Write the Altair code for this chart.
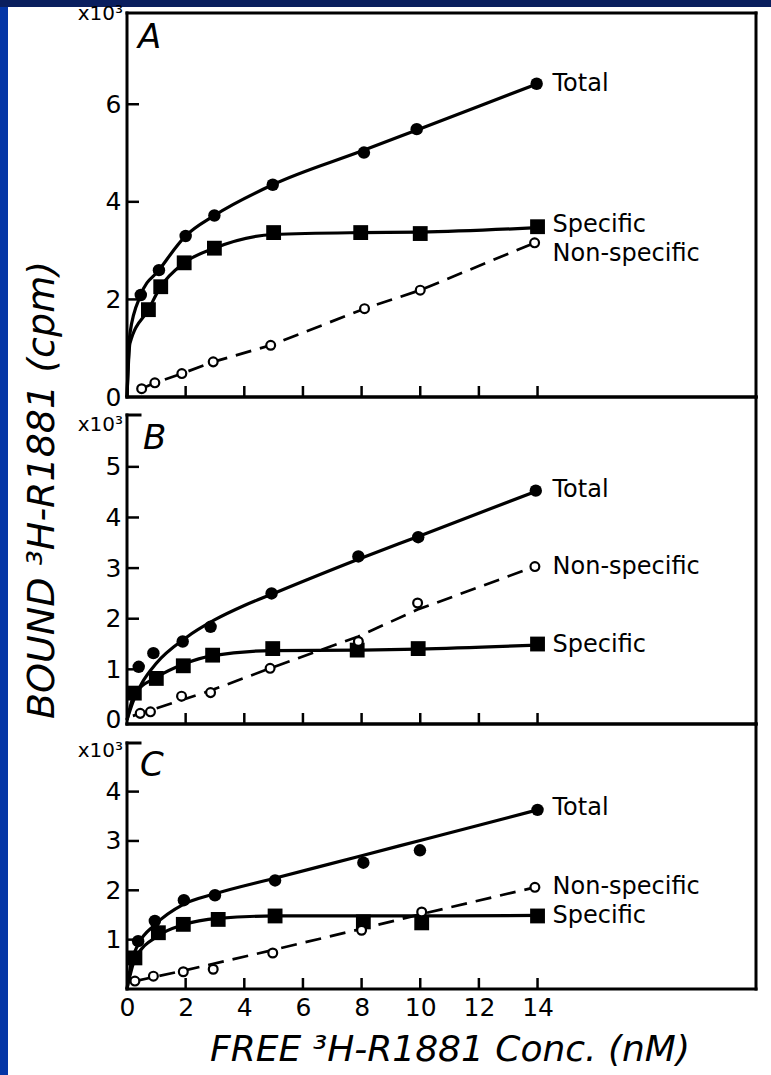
import altair as alt
import pandas as pd

# ---------------- data (x: free 3H-R1881 nM, y: bound cpm x10^3) ----------------
x_ticks = [2, 4, 6, 8, 10, 12, 14]
x_labels = [0, 2, 4, 6, 8, 10, 12, 14]
series_labels = ["Total", "Specific", "Non-specific"]
label_x = [14, 14, 14]

# Panel A
A_yticks = [0, 2, 4, 6]
A_total_x = [0.47, 1.09, 2.0, 2.98, 4.97, 8.08, 9.88, 13.97]
A_total_y = [2.09, 2.60, 3.30, 3.72, 4.35, 5.01, 5.49, 6.42]
A_spec_x = [0.73, 1.15, 1.95, 2.98, 5.0, 7.97, 10.0, 14.0]
A_spec_y = [1.79, 2.26, 2.75, 3.05, 3.37, 3.37, 3.35, 3.49]
A_non_x = [0.5, 0.95, 1.87, 2.94, 4.9, 8.1, 10.0, 13.9]
A_non_y = [0.17, 0.29, 0.48, 0.72, 1.06, 1.81, 2.19, 3.16]
A_total_curve_x = [0, 0.1, 0.47, 1.09, 2.0, 2.98, 4.97, 8.0, 10.0, 14.0]
A_total_curve_y = [0, 1.3, 2.09, 2.60, 3.30, 3.72, 4.35, 5.04, 5.50, 6.42]
A_spec_curve_x = [0, 0.1, 0.73, 1.15, 1.95, 2.98, 5.0, 8.0, 10.0, 14.0]
A_spec_curve_y = [0, 1.1, 1.79, 2.26, 2.75, 3.05, 3.33, 3.37, 3.38, 3.47]
A_non_line_x = [0.5, 0.95, 1.87, 2.94, 4.9, 8.1, 10.0, 13.9]
A_non_line_y = [0.17, 0.29, 0.48, 0.72, 1.06, 1.81, 2.19, 3.16]
A_label_y = [6.42, 3.53, 2.93]

# Panel B
B_yticks = [0, 1, 2, 3, 4, 5]
B_total_x = [0.4, 0.9, 1.9, 2.85, 4.93, 7.89, 9.93, 13.94]
B_total_y = [1.05, 1.32, 1.55, 1.84, 2.50, 3.23, 3.61, 4.53]
B_spec_x = [0.25, 1.0, 1.92, 2.92, 4.97, 7.85, 9.93, 14.0]
B_spec_y = [0.53, 0.82, 1.07, 1.28, 1.41, 1.38, 1.41, 1.50]
B_non_x = [0.45, 0.8, 1.86, 2.85, 4.88, 7.89, 9.91, 13.91]
B_non_y = [0.13, 0.16, 0.47, 0.54, 1.02, 1.55, 2.31, 3.03]
B_total_curve_x = [0, 0.2, 0.5, 1.0, 2.0, 3.0, 4.0, 5.0, 8.0, 10.0, 14.0]
B_total_curve_y = [0, 0.35, 0.72, 1.12, 1.62, 1.98, 2.26, 2.50, 3.20, 3.64, 4.53]
B_spec_curve_x = [0, 0.25, 1.0, 1.92, 2.92, 4.97, 7.85, 9.93, 14.0]
B_spec_curve_y = [0, 0.50, 0.84, 1.10, 1.27, 1.37, 1.38, 1.40, 1.48]
B_non_line_x = [0.2, 2.85, 4.88, 7.89, 9.91, 13.91]
B_non_line_y = [0.08, 0.58, 1.02, 1.65, 2.18, 3.03]
B_label_y = [4.55, 1.48, 3.02]

# Panel C
C_yticks = [1, 2, 3, 4]
C_total_x = [0.38, 0.95, 1.94, 3.0, 5.05, 8.06, 9.99, 14.0]
C_total_y = [0.97, 1.38, 1.80, 1.90, 2.20, 2.56, 2.81, 3.63]
C_spec_x = [0.27, 1.07, 1.92, 3.11, 5.05, 8.06, 10.05, 14.0]
C_spec_y = [0.63, 1.14, 1.31, 1.41, 1.48, 1.36, 1.34, 1.48]
C_non_x = [0.27, 0.9, 1.92, 2.94, 4.97, 8.0, 10.05, 13.91]
C_non_y = [0.16, 0.26, 0.35, 0.40, 0.73, 1.19, 1.56, 2.06]
C_total_curve_x = [0, 0.15, 0.38, 0.95, 1.94, 3.0, 5.0, 8.0, 10.0, 14.0]
C_total_curve_y = [0, 0.55, 0.90, 1.30, 1.72, 1.93, 2.24, 2.70, 3.01, 3.63]
C_spec_curve_x = [0, 0.27, 1.07, 1.92, 3.11, 5.05, 8.0, 10.0, 14.0]
C_spec_curve_y = [0, 0.60, 1.08, 1.30, 1.43, 1.48, 1.48, 1.48, 1.49]
C_non_line_x = [0.27, 1.92, 4.97, 8.0, 10.05, 13.91]
C_non_line_y = [0.16, 0.37, 0.79, 1.22, 1.52, 2.06]
C_label_y = [3.66, 1.47, 2.06]

# ---------------- styling ----------------
W = 629
FONT = "DejaVu Sans"
BLUE_TOP = "#0a1f5e"
BLUE_LEFT = "#0536a6"
XS = alt.Scale(domain=[0, 21.45], nice=False, zero=False)
ONE = pd.DataFrame({"k": [0]})


def df(xs, ys):
    return pd.DataFrame({"x": xs, "y": ys})


def rule(**kw):
    return alt.Chart(ONE).mark_rule(color="black", strokeWidth=3, strokeCap="square").encode(**kw)


def panel(h, ydom, yticks, total, spec, non, total_curve, spec_curve, non_line,
          label_y, letter, letter_xy, x10_y, left_top, bottom_axis=False,
          first=False, ytitle=False, xtitle=False):
    ys = alt.Scale(domain=ydom, nice=False, zero=False)
    yax = alt.Axis(values=yticks, title=None, grid=False, ticks=False, tickSize=0,
                   domain=False, labelFont=FONT, labelFontSize=25, labelColor="black",
                   labelPadding=6, zindex=1, format="d")
    if bottom_axis:
        xax = alt.Axis(values=x_labels, title=None, grid=False, ticks=False, tickSize=0,
                       domain=False, labelFont=FONT, labelFontSize=25, labelColor="black",
                       labelPadding=6, labelFlush=False, zindex=1, format="d")
    else:
        xax = None

    def X():
        return alt.X("x:Q", scale=XS, axis=xax)

    def Y():
        return alt.Y("y:Q", scale=ys, axis=yax)

    layers = []
    if first:
        layers.append(alt.Chart(ONE).mark_rect(color=BLUE_TOP).encode(
            x=alt.value(-127), x2=alt.value(W + 15), y=alt.value(-13), y2=alt.value(1062)))
        layers.append(alt.Chart(ONE).mark_rect(color=BLUE_LEFT).encode(
            x=alt.value(-127), x2=alt.value(-119), y=alt.value(-6), y2=alt.value(1062)))
        layers.append(alt.Chart(ONE).mark_rect(color="white").encode(
            x=alt.value(-119), x2=alt.value(W + 15), y=alt.value(-6), y2=alt.value(1062)))

    # frame
    layers += [
        rule(x=alt.value(0), x2=alt.value(W), y=alt.value(0)),
        rule(x=alt.value(W), y=alt.value(0), y2=alt.value(h)),
        rule(x=alt.value(0), x2=alt.value(W), y=alt.value(h)),
        rule(x=alt.value(0), y=alt.value(left_top), y2=alt.value(h)),
    ]
    if left_top > 0:
        layers.append(rule(x=alt.value(0), x2=alt.value(13), y=alt.value(left_top)))

    # inward ticks
    layers.append(alt.Chart(pd.DataFrame({"y": [t for t in yticks if t > 0]}))
                  .mark_rule(color="black", strokeWidth=2.5)
                  .encode(y=Y(), x=alt.value(0), x2=alt.value(12)))
    layers.append(alt.Chart(pd.DataFrame({"x": x_ticks}))
                  .mark_rule(color="black", strokeWidth=2.5)
                  .encode(x=X(), y=alt.value(h), y2=alt.value(h - 11)))

    # curves
    curves = pd.concat([df(*total_curve).assign(s="Total"),
                        df(*spec_curve).assign(s="Specific")])
    layers.append(alt.Chart(curves).mark_line(color="black", strokeWidth=3.2,
                                              interpolate="monotone")
                  .encode(x=X(), y=Y(), detail="s:N"))
    layers.append(alt.Chart(df(*non_line)).mark_line(color="black", strokeWidth=2.7,
                                                     strokeDash=[16, 9])
                  .encode(x=X(), y=Y()))

    # markers
    layers.append(alt.Chart(df(*total)).mark_point(shape="circle", filled=True, color="black",
                                                   size=155, opacity=1)
                  .encode(x=X(), y=Y()))
    layers.append(alt.Chart(df(*spec)).mark_square(color="black", size=220, opacity=1)
                  .encode(x=X(), y=Y()))
    layers.append(alt.Chart(df(*non)).mark_point(shape="circle", filled=True, fill="white",
                                                 stroke="black", strokeWidth=2.2, size=78,
                                                 opacity=1)
                  .encode(x=X(), y=Y()))

    # series labels
    lab = pd.DataFrame({"x": label_x, "y": label_y, "t": series_labels})
    layers.append(alt.Chart(lab).mark_text(align="left", baseline="middle", dx=15, font=FONT,
                                           fontSize=24, color="black")
                  .encode(x=X(), y=Y(), text="t:N"))

    # panel letter and multiplier
    layers.append(alt.Chart(ONE).mark_text(align="left", baseline="middle", font=FONT,
                                           fontSize=34, fontStyle="italic", color="black")
                  .encode(x=alt.value(letter_xy[0]), y=alt.value(letter_xy[1]),
                          text=alt.value(letter)))
    layers.append(alt.Chart(ONE).mark_text(align="right", baseline="middle", font=FONT,
                                           fontSize=20, color="black")
                  .encode(x=alt.value(-4), y=alt.value(x10_y), text=alt.value("x10³")))

    if ytitle:
        layers.append(alt.Chart(ONE).mark_text(align="center", baseline="middle", font=FONT,
                                               fontSize=38, fontStyle="italic", angle=270,
                                               color="black")
                      .encode(x=alt.value(-84), y=alt.value(93),
                              text=alt.value("BOUND ³H-R1881 (cpm)")))
    if xtitle:
        layers.append(alt.Chart(ONE).mark_text(align="center", baseline="middle", font=FONT,
                                               fontSize=36, fontStyle="italic", color="black")
                      .encode(x=alt.value(323), y=alt.value(h + 61),
                              text=alt.value("FREE ³H-R1881 Conc. (nM)")))

    return alt.layer(*layers).properties(width=W, height=h)


pA = panel(384, [0, 7.87], A_yticks,
           (A_total_x, A_total_y), (A_spec_x, A_spec_y), (A_non_x, A_non_y),
           (A_total_curve_x, A_total_curve_y), (A_spec_curve_x, A_spec_curve_y),
           (A_non_line_x, A_non_line_y), A_label_y, "A", (11, 25), 1, 0, first=True)
pB = panel(327, [-0.08, 6.38], B_yticks,
           (B_total_x, B_total_y), (B_spec_x, B_spec_y), (B_non_x, B_non_y),
           (B_total_curve_x, B_total_curve_y), (B_spec_curve_x, B_spec_curve_y),
           (B_non_line_x, B_non_line_y), B_label_y, "B", (16, 42), 28, 18, ytitle=True)
pC = panel(265, [0, 5.37], C_yticks,
           (C_total_x, C_total_y), (C_spec_x, C_spec_y), (C_non_x, C_non_y),
           (C_total_curve_x, C_total_curve_y), (C_spec_curve_x, C_spec_curve_y),
           (C_non_line_x, C_non_line_y), C_label_y, "C", (13, 42), 27, 19,
           bottom_axis=True, xtitle=True)

chart = (alt.vconcat(pA, pB, pC, spacing=0, bounds="flush")
         .properties(padding=0, background=BLUE_TOP)
         .configure_view(strokeWidth=0))

chart.save("out.html", embed_options={"renderer": "svg", "actions": False})
